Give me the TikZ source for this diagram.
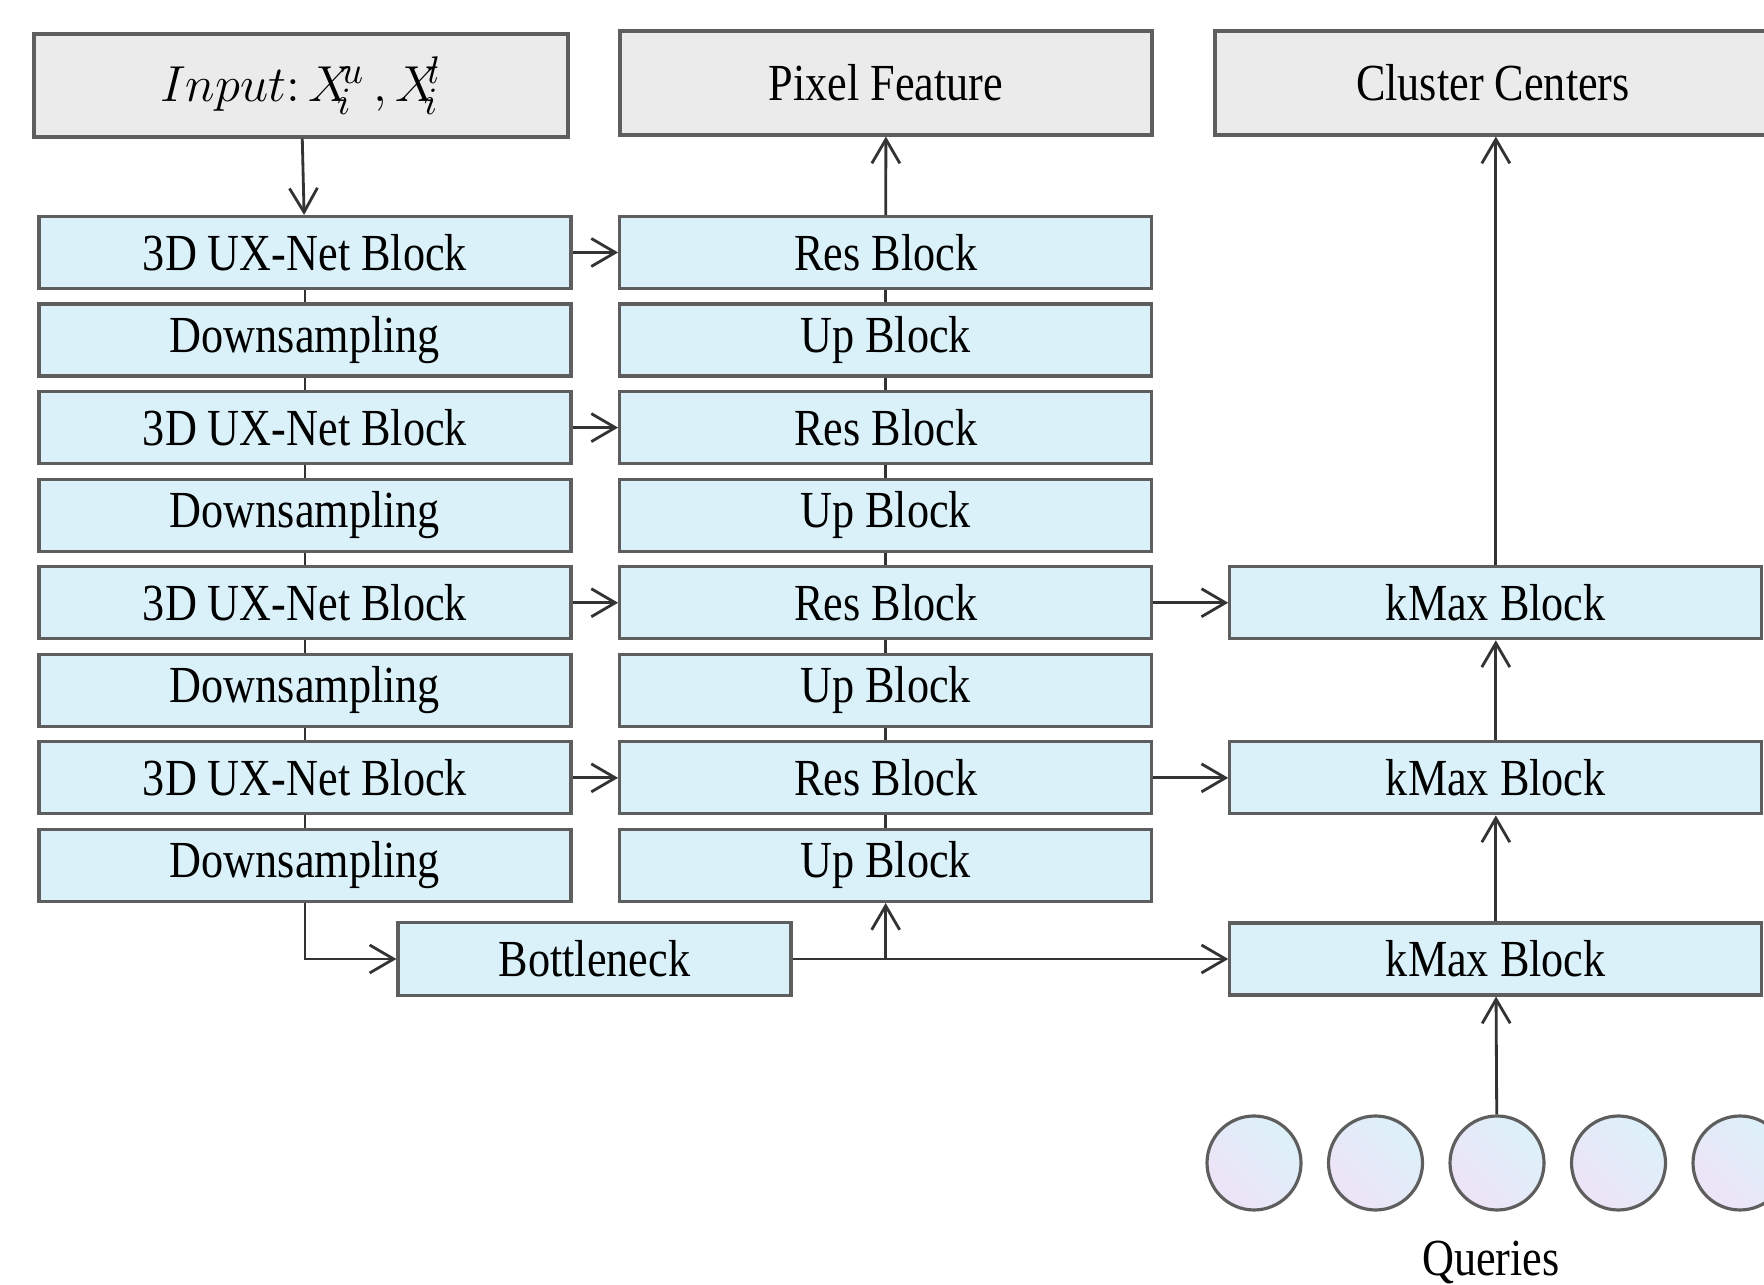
\documentclass[tikz,border=0pt]{standalone}
\usepackage{fontspec}
\setmainfont{Liberation Serif}[FakeStretch=0.85]
\usetikzlibrary{arrows.meta, positioning}

\definecolor{blockblue}{HTML}{DAF1F9}
\definecolor{headgray}{HTML}{EBEBEB}
\definecolor{edgegray}{HTML}{5E5E5E}
\definecolor{qblue}{HTML}{DCF1FA}
\definecolor{qlilac}{HTML}{EDE3F7}

\begin{document}
\begin{tikzpicture}[
      block/.style={rectangle, draw=edgegray, line width=0.9pt, fill=blockblue, minimum width=53.2mm, minimum height=7.2mm, inner sep=0pt, text centered, font=\fontsize{14.8}{17}\selectfont},
      head/.style={block, fill=headgray, minimum height=10.4mm},
      query/.style={circle, draw=edgegray, line width=0.9pt, minimum size=9.4mm, inner sep=0pt, top color=qblue, bottom color=qlilac, shading angle=-45},
      arrow/.style={-{Straight Barb[length=2.4mm, width=2.8mm]}, line width=0.8pt, draw=black!80},
      link/.style={line width=0.8pt, draw=black!80},
      node distance=1.24mm and 4.55mm
    ]

    \useasboundingbox (0,0) rectangle (17.64,12.85);
    \clip (0,0) rectangle (17.64,12.85);

    % encoder column
    \node[block] (ux1) at (3.05,10.325) {3D UX-Net Block};
    \node[block, below=of ux1] (down1) {Downsampling};
    \node[block, below=of down1] (ux2) {3D UX-Net Block};
    \node[block, below=of ux2] (down2) {Downsampling};
    \node[block, below=of down2] (ux3) {3D UX-Net Block};
    \node[block, below=of ux3] (down3) {Downsampling};
    \node[block, below=of down3] (ux4) {3D UX-Net Block};
    \node[block, below=of ux4] (down4) {Downsampling};

    % decoder column
    \node[block, right=of ux1] (res1) {Res Block};
    \node[block, below=of res1] (up1) {Up Block};
    \node[block, below=of up1] (res2) {Res Block};
    \node[block, below=of res2] (up2) {Up Block};
    \node[block, below=of up2] (res3) {Res Block};
    \node[block, below=of res3] (up3) {Up Block};
    \node[block, below=of up3] (res4) {Res Block};
    \node[block, below=of res4] (up4) {Up Block};

    \node[block, minimum width=39.3mm, minimum height=7.3mm] (bneck) at (5.945,3.26) {Bottleneck};

    % kMax decoder
    \node[block, right=7.5mm of res3] (kmax1) {kMax Block};
    \node[block, right=7.5mm of res4] (kmax2) {kMax Block};
    \node[block] (kmax3) at (bneck -| kmax1) {kMax Block};

    % top row
    \node[head, minimum width=53.4mm, minimum height=10.3mm, font=\fontsize{15}{18}\selectfont] (input) at (3.01,11.995) {$Input\colon X^{\!\!u}_{\!\!i}\,, X^{\!\!l}_{\!\!i}$};
    \node[head] (pixel) at (8.86,12.02) {Pixel Feature};
    \node[head, minimum width=55.6mm] (cluster) at (14.93,12.02) {Cluster Centers};

    % queries
    \foreach \i/\x in {1/12.54, 2/13.755, 3/14.97, 4/16.185, 5/17.40}
      \node[query] (q\i) at (\x,1.22) {};
    \node[anchor=base, font=\fontsize{14.8}{17}\selectfont] (qlabel) at (14.91,0.09) {Queries};

    % column links
    \draw[link] (ux1) -- (down1) -- (ux2) -- (down2) -- (ux3) -- (down3) -- (ux4) -- (down4);
    \draw[link] (res1) -- (up1) -- (res2) -- (up2) -- (res3) -- (up3) -- (res4) -- (up4);

    \draw[arrow] (input) -- (ux1);
    \draw[arrow] (ux1) -- (res1);
    \draw[arrow] (ux2) -- (res2);
    \draw[arrow] (ux3) -- (res3);
    \draw[arrow] (ux4) -- (res4);
    \draw[arrow] (res1) -- (pixel);

    \draw[arrow] (down4.south) |- (bneck.west);
    \draw[arrow] (bneck.east) -| (up4.south);
    \draw[arrow] (bneck) -- (kmax3);

    \draw[arrow] (res3) -- (kmax1);
    \draw[arrow] (res4) -- (kmax2);
    \draw[arrow] (q3) -- (kmax3);
    \draw[arrow] (kmax3) -- (kmax2);
    \draw[arrow] (kmax2) -- (kmax1);
    \draw[arrow] (kmax1.north) -- (kmax1.north |- cluster.south);

    \end{tikzpicture}
\end{document}
